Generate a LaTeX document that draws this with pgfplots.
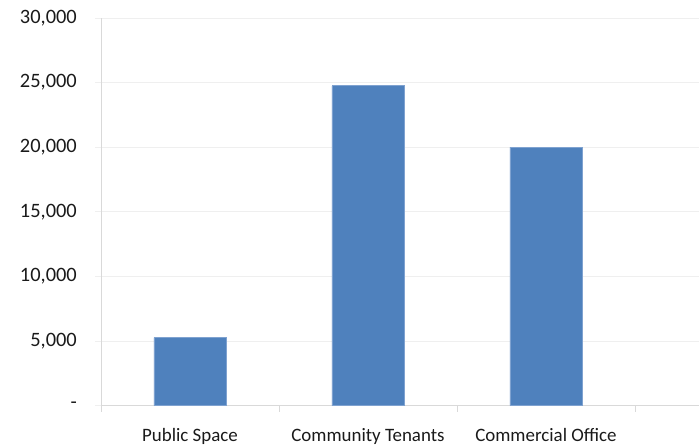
\documentclass[border=0pt]{standalone}
\usepackage{pgfplots}
\pgfplotsset{compat=1.18}
\usepackage{fontspec}
\setmainfont{Carlito}
\definecolor{barblue}{HTML}{4F81BD}
\definecolor{baredge}{HTML}{7FA2D0}
\definecolor{gridc}{HTML}{EFEFEF}
\definecolor{axisc}{HTML}{D9D9D9}
\definecolor{txt}{HTML}{1A1A1A}
\begin{document}
\begin{tikzpicture}
\path[use as bounding box] (-101bp,-41.5bp) rectangle (598bp,405.5bp);
\begin{axis}[
  at={(0,0)}, anchor=south west,
  scale only axis,
  width=598bp, height=387.5bp,
  xmin=-0.5, xmax=2.86,
  ymin=0, ymax=30000,
  scaled y ticks=false,
  axis x line*=bottom, axis y line*=left,
  axis line style={draw=axisc, line width=0.8bp},
  xtick={0,1,2},
  xticklabels={Public Space, Community Tenants, Commercial Office},
  minor xtick={-0.5,0.5,1.5,2.5},
  major x tick style={draw=none},
  minor x tick style={draw=axisc, line width=0.8bp},
  minor tick length=6bp,
  ytick={0,5000,10000,15000,20000,25000,30000},
  yticklabels={-,{5,000},{10,000},{15,000},{20,000},{25,000},{30,000}},
  major tick length=6bp,
  y tick style={draw=gridc, line width=0.8bp},
  tick align=outside,
  ymajorgrids,
  major grid style={draw=gridc, line width=0.8bp},
  /pgf/number format/assume math mode=true,
  yticklabel style={anchor=east, inner sep=0pt, xshift=-18bp, font=\fontsize{20.5}{24}\selectfont, text=txt},
  xticklabel style={anchor=base, inner sep=0pt, yshift=-29.5bp, font=\fontsize{19}{22}\selectfont, text=txt},
  clip=false,
]
\addplot[ybar, bar width=72bp, fill=barblue, draw=baredge, line width=0.8bp] coordinates {(0,5250) (1,24750) (2,20000)};
\end{axis}
\end{tikzpicture}
\end{document}
